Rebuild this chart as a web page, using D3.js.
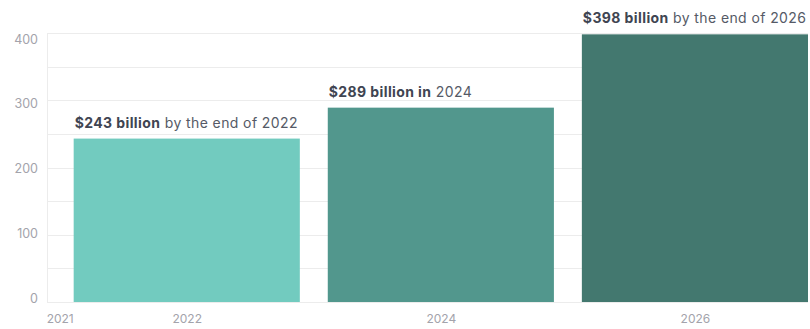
<!DOCTYPE html>
<html>
<head>
  <script src="https://cdn.jsdelivr.net/npm/d3@7"></script>
  <style>
    body { margin: 0; background: #fff; font-family: Inter, "Noto Sans", sans-serif; }
  </style>
</head>
<body>
  <div id="chart"></div>
  <script>
    const years = [2022, 2024, 2026];
    const values = [243, 289, 398];
    const boldLabels = ["$243 billion", "$289 billion in", "$398 billion"];
    const restLabels = [" by the end of 2022", " 2024", " by the end of 2026"];
    const barColors = ["#72cbbf", "#52978d", "#43786f"];
    const xTicks = [2021, 2022, 2024, 2026];
    const yTicks = [0, 100, 200, 300, 400];
    const gridTicks = [0, 50, 100, 150, 200, 250, 300, 350, 400];

    const width = 810, height = 329;
    const margin = {top: 33, right: 2, bottom: 27, left: 47};

    const svg = d3.select("#chart").append("svg")
      .attr("width", width)
      .attr("height", height);

    const x = d3.scaleLinear()
      .domain([2020.9, 2026.89])
      .range([margin.left, width - margin.right]);

    const y = d3.scaleLinear()
      .domain([0, 400])
      .range([height - margin.bottom, margin.top]);

    // tick labels sit on a slightly tighter spacing than the grid in the original
    const yLabel = d3.scaleLinear()
      .domain([0, 400])
      .range([298, 39]);

    const barW = 1.78; // in years

    // gridlines
    svg.append("g")
      .selectAll("line")
      .data(gridTicks)
      .join("line")
        .attr("x1", margin.left)
        .attr("x2", width - margin.right)
        .attr("y1", d => Math.round(y(d)) + 0.5)
        .attr("y2", d => Math.round(y(d)) + 0.5)
        .attr("stroke", "#ececec");

    svg.append("line")
      .attr("x1", margin.left + 0.5)
      .attr("x2", margin.left + 0.5)
      .attr("y1", margin.top)
      .attr("y2", y(0))
      .attr("stroke", "#ececec");

    // y labels
    const yAxis = svg.append("g")
      .attr("transform", `translate(${margin.left - 9},0)`)
      .call(d3.axisLeft(yLabel).tickValues(yTicks).tickSize(0).tickPadding(0));
    yAxis.select(".domain").remove();
    yAxis.selectAll("text")
      .attr("fill", "#a3a3ab")
      .attr("font-size", 12.5)
      .attr("font-family", "Inter, sans-serif");

    // x labels
    const xAxis = svg.append("g")
      .attr("transform", `translate(0,${y(0) + 12})`)
      .call(d3.axisBottom(x).tickValues(xTicks).tickFormat(d3.format("d")).tickSize(0).tickPadding(0));
    xAxis.select(".domain").remove();
    xAxis.selectAll("text")
      .attr("fill", "#a3a3ab")
      .attr("font-size", 12)
      .attr("font-family", "Inter, sans-serif");

    // bars
    svg.append("g")
      .selectAll("rect")
      .data(years)
      .join("rect")
        .attr("x", d => x(d - barW / 2))
        .attr("width", d => x(d + barW / 2) - x(d - barW / 2))
        .attr("y", (d, i) => y(values[i]))
        .attr("height", (d, i) => y(0) - y(values[i]))
        .attr("fill", (d, i) => barColors[i]);

    // annotations
    const ann = svg.append("g")
      .selectAll("text")
      .data(years)
      .join("text")
        .attr("x", d => x(d - barW / 2) + 1)
        .attr("y", (d, i) => y(values[i]) - 11)
        .attr("font-size", 14)
        .attr("letter-spacing", 0.4)
        .attr("font-family", "Inter, sans-serif")
        .attr("fill", "#3f4552");
    ann.append("tspan")
      .attr("font-weight", 700)
      .text((d, i) => boldLabels[i]);
    ann.append("tspan")
      .attr("fill", "#555a66")
      .text((d, i) => restLabels[i]);
  </script>
</body>
</html>
